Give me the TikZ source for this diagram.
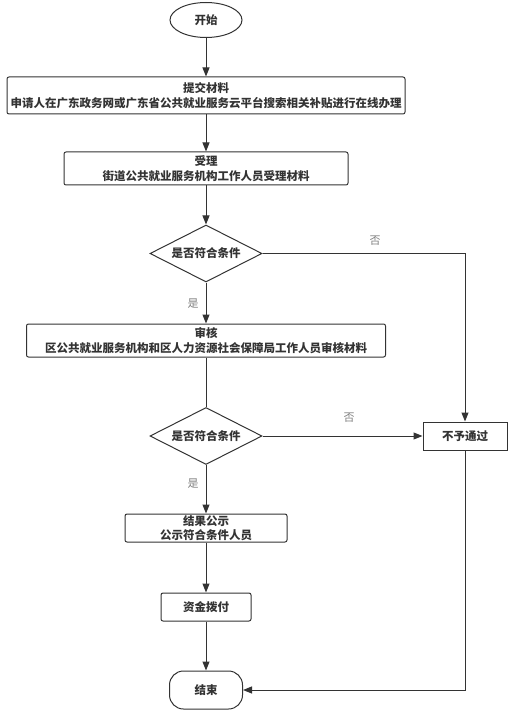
\documentclass[tikz,border=0pt]{standalone}
\usepackage{fontspec}
\setmainfont{Noto Sans CJK SC}
\usetikzlibrary{shapes.geometric,arrows.meta}
\definecolor{linegray}{HTML}{333333}
\tikzset{
  stepbox/.style={draw=linegray, line width=1pt, rounded corners=2pt, align=center, inner sep=0pt,
    font=\bfseries\fontsize{11.5}{14.5}\selectfont, text=linegray},
  termbox/.style={stepbox, rounded corners=14pt},
  checkbox/.style={draw=linegray, line width=1pt, diamond, aspect=2, inner sep=0pt,
    minimum width=112pt, minimum height=57pt, font=\bfseries\fontsize{11.5}{14}\selectfont, text=linegray},
  flow/.style={draw=linegray, line width=1pt, -{Triangle[length=9pt,width=7pt]}},
  answer/.style={text=gray, font=\fontsize{11}{13}\selectfont}
}
\begin{document}
\begin{tikzpicture}[x=1pt,y=-1pt]
    \useasboundingbox (0,0) rectangle (514,711);

    \node[draw=linegray, line width=1pt, ellipse, minimum width=72pt, minimum height=35pt, inner sep=0pt,
      font=\bfseries\fontsize{11.5}{14}\selectfont, text=linegray] (start) at (206,20) {开始};
    \node[stepbox, minimum width=398pt, minimum height=37pt] (submit) at (206,95.5)
      {提交材料\\申请人在广东政务网或广东省公共就业服务云平台搜索相关补贴进行在线办理};
    \node[stepbox, minimum width=284pt, minimum height=33pt] (accept) at (206,168.5)
      {受理\\街道公共就业服务机构工作人员受理材料};
    \node[checkbox] (check1) at (206,253.5) {是否符合条件};
    \node[stepbox, minimum width=359pt, minimum height=33pt] (review) at (206,340.5)
      {审核\\区公共就业服务机构和区人力资源社会保障局工作人员审核材料};
    \node[checkbox] (check2) at (206,436) {是否符合条件};
    \node[stepbox, rounded corners=0pt, minimum width=84pt, minimum height=28pt] (reject) at (465,436) {不予通过};
    \node[stepbox, minimum width=162pt, minimum height=28pt] (notice) at (206,528)
      {结果公示\\公示符合条件人员};
    \node[stepbox, minimum width=90pt, minimum height=28pt] (pay) at (206,607) {资金拨付};
    \node[termbox, minimum width=73pt, minimum height=38pt] (finish) at (206,690) {结束};

    \draw[flow] (start) -- (submit);
    \draw[flow] (submit) -- (accept);
    \draw[flow] (accept) -- (check1);
    \draw[flow] (check1) -- (review);
    \draw[flow] (check1.east) -| (reject.north);
    \draw[draw=linegray, line width=1pt] (review) -- (check2);
    \draw[flow] (check2) -- (reject);
    \draw[flow] (check2) -- (notice);
    \draw[flow] (notice) -- (pay);
    \draw[flow] (pay) -- (finish);
    \draw[flow] (reject.south) |- (finish.east);

    \node[answer] (no1) at (375,241) {否};
    \node[answer] (yes1) at (193,304) {是};
    \node[answer] (no2) at (349,418) {否};
    \node[answer] (yes2) at (193,484) {是};
\end{tikzpicture}
\end{document}
